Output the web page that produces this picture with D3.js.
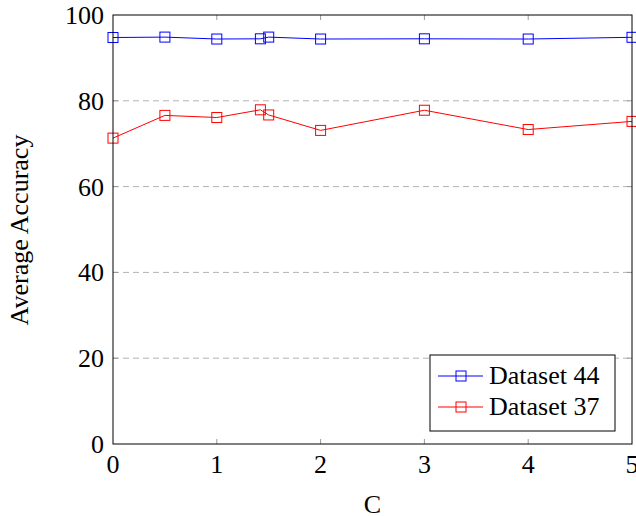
<!DOCTYPE html>
<html>
<head>
<meta charset="utf-8">
<script src="https://cdn.jsdelivr.net/npm/d3@7"></script>
<style>
  body { margin: 0; background: #fff; }
</style>
</head>
<body>
<svg width="636" height="516" font-family="'Liberation Serif', 'DejaVu Serif', serif"></svg>
<script>
const cValues = [0, 0.5, 1, 1.42, 1.5, 2, 3, 4, 5];
const dataset44 = [94.75, 94.85, 94.4, 94.45, 94.85, 94.4, 94.45, 94.4, 94.8];
const dataset37 = [71.3, 76.6, 76.1, 77.9, 76.7, 73.1, 77.8, 73.3, 75.2];
const xTicks = [0, 1, 2, 3, 4, 5];
const yTicks = [0, 20, 40, 60, 80, 100];
const seriesNames = ["Dataset 44", "Dataset 37"];
const seriesColors = ["#0000ff", "#ff0000"];

const svg = d3.select("svg");
const plotLeft = 113, plotRight = 632, plotTop = 15, plotBottom = 444;

const x = d3.scaleLinear().domain([0, 5]).range([plotLeft, plotRight]);
const y = d3.scaleLinear().domain([0, 100]).range([plotBottom, plotTop]);

// grid
svg.append("g").selectAll("line")
    .data(yTicks.filter(d => d > 0 && d < 100))
    .join("line")
    .attr("x1", plotLeft).attr("x2", plotRight)
    .attr("y1", d => y(d)).attr("y2", d => y(d))
    .attr("stroke", "#b3b3b3")
    .attr("stroke-dasharray", "6,4")
    .attr("stroke-width", 1);

// inner ticks
const tickLen = 5;
const ticks = svg.append("g").attr("stroke", "#999").attr("stroke-width", 1);
xTicks.filter(d => d > 0 && d < 5).forEach(d => {
    ticks.append("line").attr("x1", x(d)).attr("x2", x(d)).attr("y1", plotBottom).attr("y2", plotBottom - tickLen);
    ticks.append("line").attr("x1", x(d)).attr("x2", x(d)).attr("y1", plotTop).attr("y2", plotTop + tickLen);
});
yTicks.filter(d => d > 0 && d < 100).forEach(d => {
    ticks.append("line").attr("y1", y(d)).attr("y2", y(d)).attr("x1", plotLeft).attr("x2", plotLeft + tickLen);
    ticks.append("line").attr("y1", y(d)).attr("y2", y(d)).attr("x1", plotRight).attr("x2", plotRight - tickLen);
});

// tick labels
svg.append("g").selectAll("text")
    .data(xTicks).join("text")
    .attr("x", d => x(d)).attr("y", 473)
    .attr("text-anchor", "middle")
    .attr("font-size", 26)
    .text(d => d);

svg.append("g").selectAll("text")
    .data(yTicks).join("text")
    .attr("x", 104).attr("y", d => y(d) + 9)
    .attr("text-anchor", "end")
    .attr("font-size", 26)
    .text(d => d);

// series
const line = d3.line().x(d => x(d[0])).y(d => y(d[1]));
[dataset44, dataset37].forEach((vals, i) => {
    const pts = cValues.map((c, j) => [c, vals[j]]);
    const g = svg.append("g");
    g.append("path")
        .attr("d", line(pts))
        .attr("fill", "none")
        .attr("stroke", seriesColors[i])
        .attr("stroke-width", 1);
    g.selectAll("rect").data(pts).join("rect")
        .attr("x", d => x(d[0]) - 5).attr("y", d => y(d[1]) - 5)
        .attr("width", 10).attr("height", 10)
        .attr("fill", "none")
        .attr("stroke", seriesColors[i])
        .attr("stroke-width", 1);
});

// frame
svg.append("rect")
    .attr("x", plotLeft).attr("y", plotTop)
    .attr("width", plotRight - plotLeft).attr("height", plotBottom - plotTop)
    .attr("fill", "none").attr("stroke", "#000").attr("stroke-width", 1);

// axis labels
svg.append("text")
    .attr("x", x(2.5)).attr("y", 513)
    .attr("text-anchor", "middle")
    .attr("font-size", 26)
    .text("C");

svg.append("text")
    .attr("transform", `translate(28,230) rotate(-90)`)
    .attr("text-anchor", "middle")
    .attr("font-size", 26)
    .text("Average Accuracy");

// legend
const legend = svg.append("g").attr("transform", "translate(430,355)");
legend.append("rect")
    .attr("width", 185).attr("height", 76)
    .attr("fill", "#fff").attr("stroke", "#000").attr("stroke-width", 1);
seriesNames.forEach((name, i) => {
    const ly = 21 + i * 31;
    legend.append("line")
        .attr("x1", 8).attr("x2", 53).attr("y1", ly).attr("y2", ly)
        .attr("stroke", seriesColors[i]);
    legend.append("rect")
        .attr("x", 26).attr("y", ly - 5).attr("width", 10).attr("height", 10)
        .attr("fill", "none").attr("stroke", seriesColors[i]);
    legend.append("text")
        .attr("x", 59).attr("y", ly + 8)
        .attr("font-size", 26)
        .text(name);
});
</script>
</body>
</html>
